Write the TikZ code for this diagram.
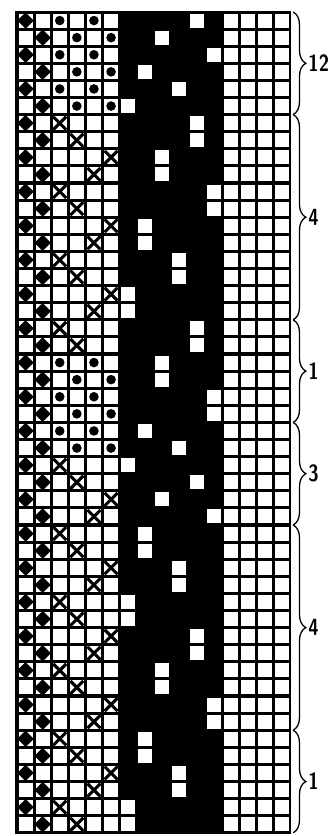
\documentclass[tikz,border=0pt]{standalone}
\usepackage{fontspec}
\usetikzlibrary{decorations.pathreplacing}
\begin{document}
\begin{tikzpicture}[
    x=5.13mm, y=-5.13mm,
    hole/.style={fill=white},
    knot/.style={fill=black},
    bead/.style={fill=black},
    cross/.style={line width=2.6pt},
    rep/.style={decorate, decoration={brace, amplitude=3.8mm}, line width=1.1pt},
    times/.style={font=\sffamily\bfseries\fontsize{20}{24}\selectfont, anchor=west, inner sep=1pt, xscale=0.8}
  ]
  \useasboundingbox (-0.994,-0.702) rectangle (18.363,48.187);

  % black ground of the chart
  \fill (-0.12,-0.06) rectangle (16.05,48.06);

  % left and right grids
  \foreach \r in {1,...,48} {
    \foreach \c in {1,...,6,13,14,15,16} {
      \fill[hole] (\c-0.91,\r-0.91) rectangle (\c-0.09,\r-0.09);
    }
  }

  % open squares in the black band
  \foreach \r/\c in {1/11, 2/9, 3/12, 4/8, 5/10, 6/7,
      7/11, 8/11, 9/9, 10/9, 11/12, 12/12, 13/8, 14/8, 15/10, 16/10, 17/7, 18/7,
      19/11, 20/11, 21/9, 22/9, 23/12, 24/12,
      25/8, 26/10, 27/7, 28/11, 29/9, 30/12,
      31/8, 32/8, 33/10, 34/10, 35/7, 36/7, 37/11, 38/11, 39/9, 40/9, 41/12, 42/12,
      43/8, 44/8, 45/10, 46/10, 47/7, 48/7} {
    \fill[hole] (\c-0.91,\r-0.91) rectangle (\c-0.09,\r-0.09);
  }

  % diamonds
  \foreach \r in {1,3,...,47} {
    \fill[knot] (0.5,\r-0.98) -- (0.98,\r-0.5) -- (0.5,\r-0.02) -- (0.02,\r-0.5) -- cycle;
  }
  \foreach \r in {2,4,...,48} {
    \fill[knot] (1.5,\r-0.98) -- (1.98,\r-0.5) -- (1.5,\r-0.02) -- (1.02,\r-0.5) -- cycle;
  }

  % dots
  \foreach \r in {1,3,5,21,23,25} {
    \foreach \c in {3,5} \fill[bead] (\c-0.5,\r-0.5) circle (0.28);
  }
  \foreach \r in {2,4,6,22,24,26} {
    \foreach \c in {4,6} \fill[bead] (\c-0.5,\r-0.5) circle (0.28);
  }

  % crosses
  \foreach \r/\c in {7/3, 8/4, 9/6, 10/5, 11/3, 12/4, 13/6, 14/5, 15/3, 16/4, 17/6, 18/5,
      19/3, 20/4, 27/3, 28/4, 29/6, 30/5, 31/3, 32/4, 33/6, 34/5, 35/3, 36/4,
      37/6, 38/5, 39/3, 40/4, 41/6, 42/5, 43/3, 44/4, 45/6, 46/5, 47/3, 48/4} {
    \draw[cross] (\c-0.88,\r-0.88) -- (\c-0.12,\r-0.12)
                 (\c-0.88,\r-0.12) -- (\c-0.12,\r-0.88);
  }

  % repeats
  \foreach \a/\b/\n [count=\k] in {0/6/12, 6/18/4, 18/24/1, 24/30/3, 30/42/4, 42/48/1} {
    \coordinate (top\k) at (16.15,\a);
    \coordinate (bot\k) at (16.15,\b);
    \draw[rep] (top\k) -- (bot\k);
    \node[times] (rep\k) at (16.98,{(\a+\b)/2}) {\n};
  }
\end{tikzpicture}
\end{document}
